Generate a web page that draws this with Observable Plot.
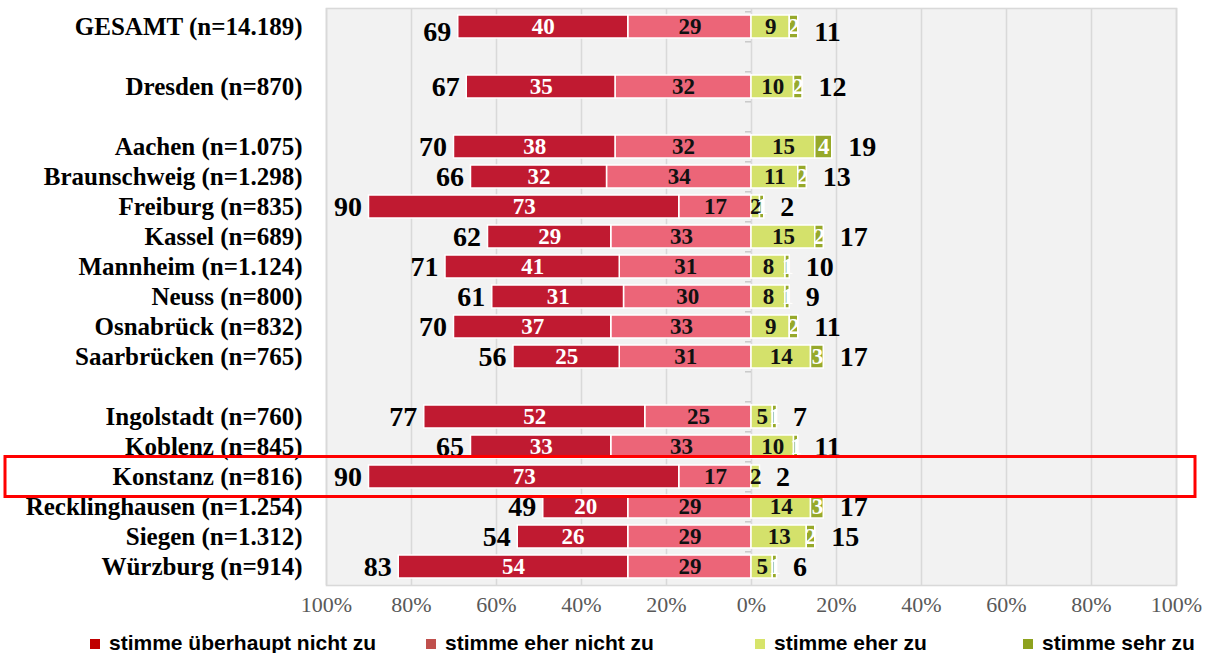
<!DOCTYPE html>
<html>
<head>
<meta charset="utf-8">
<script src="https://cdn.jsdelivr.net/npm/d3@7"></script>
<script src="https://cdn.jsdelivr.net/npm/@observablehq/plot@0.6"></script>
<style>
  body { margin: 0; background: white; }
  #legend { position: relative; width: 1211px; height: 27px; font-family: "Liberation Sans", Arial, sans-serif; font-weight: bold; font-size: 21px; color: #000; }
  .item { position: absolute; top: 0; height: 27px; display: flex; align-items: center; white-space: nowrap; }
  .sw { width: 10px; height: 10px; margin-right: 9px; position: relative; top: 4px; }
  .lt { position: relative; top: 3px; }
</style>
</head>
<body>
<div id="chart"></div>
<div id="legend"></div>
<script>
// ---- data ----
const cities = [
  "GESAMT (n=14.189)", "Dresden (n=870)",
  "Aachen (n=1.075)", "Braunschweig (n=1.298)", "Freiburg (n=835)", "Kassel (n=689)",
  "Mannheim (n=1.124)", "Neuss (n=800)", "Osnabrück (n=832)", "Saarbrücken (n=765)",
  "Ingolstadt (n=760)", "Koblenz (n=845)", "Konstanz (n=816)", "Recklinghausen (n=1.254)",
  "Siegen (n=1.312)", "Würzburg (n=914)"
];
const gapAfter = ["GESAMT (n=14.189)", "Dresden (n=870)", "Saarbrücken (n=765)"];
const highlighted = ["Konstanz (n=816)"];

const ueberhauptNicht = [40, 35, 38, 32, 73, 29, 41, 31, 37, 25, 52, 33, 73, 20, 26, 54];
const eherNicht       = [29, 32, 32, 34, 17, 33, 31, 30, 33, 31, 25, 33, 17, 29, 29, 29];
const eherZu          = [ 9, 10, 15, 11,  2, 15,  8,  8,  9, 14,  5, 10,  2, 14, 13,  5];
const sehrZu          = [ 2,  2,  4,  2,  1,  2,  1,  1,  2,  3,  1,  1,  0,  3,  2,  1];
const totalNicht      = [69, 67, 70, 66, 90, 62, 71, 61, 70, 56, 77, 65, 90, 49, 54, 83];
const totalZu         = [11, 12, 19, 13,  2, 17, 10,  9, 11, 17,  7, 11,  2, 17, 15,  6];

const seriesNames = ["stimme überhaupt nicht zu", "stimme eher nicht zu", "stimme eher zu", "stimme sehr zu"];
const barColors    = ["#c01a31", "#ec6578", "#d4e16b", "#97a92a"];
const legendColors = ["#c00000", "#c0504d", "#d7e46b", "#8ea21e"];
const labelColors  = ["white", "#111", "#111", "white"];
const xTicks = [-100, -80, -60, -40, -20, 0, 20, 40, 60, 80, 100];

// ---- derived ----
const yDomain = [];
cities.forEach(c => { yDomain.push(c); if (gapAfter.includes(c)) yDomain.push("gap-" + c); });

const segs = [];
cities.forEach((c, i) => {
  const en = eherNicht[i], un = ueberhauptNicht[i], ez = eherZu[i], sz = sehrZu[i];
  segs.push({city: c, s: 1, v: en, x1: -en, x2: 0});
  segs.push({city: c, s: 0, v: un, x1: -(en + un), x2: -en});
  segs.push({city: c, s: 2, v: ez, x1: 0, x2: ez});
  segs.push({city: c, s: 3, v: sz, x1: ez, x2: ez + sz});
});
segs.forEach(d => { d.mid = (d.x1 + d.x2) / 2; d.name = seriesNames[d.s]; });
const totals = cities.map((c, i) => ({
  city: c, left: -(eherNicht[i] + ueberhauptNicht[i]), right: eherZu[i] + sehrZu[i],
  tn: totalNicht[i], tz: totalZu[i]
}));

const W = 1211, H = 626, mT = 8, mB = 41;
const step = (H - mT - mB) / yDomain.length;
const serif = "'Liberation Serif', 'Times New Roman', serif";

const labelMarks = [0, 1, 2, 3].map(s => Plot.text(segs.filter(d => d.s === s && d.v > 0), {
  x: "mid", y: "city", text: d => String(d.v), fill: labelColors[s],
  fontSize: 23, fontWeight: "bold"
}));

const totalMarks = [[totals.slice(0, 1), 5], [totals.slice(1), 0]].flatMap(([rows, dy]) => [
  Plot.text(rows, {x: "left", y: "city", text: d => String(d.tn), textAnchor: "end", dx: -7, dy, fontSize: 28, fontWeight: "bold", fill: "black"}),
  Plot.text(rows, {x: "right", y: "city", text: d => String(d.tz), textAnchor: "start", dx: 16, dy, fontSize: 28, fontWeight: "bold", fill: "black"})
]);

const chart = Plot.plot({
  width: W, height: H,
  marginLeft: 326, marginRight: 35, marginTop: mT, marginBottom: mB,
  style: {fontFamily: serif, background: "white", overflow: "visible"},
  x: {domain: [-100, 100], axis: null},
  y: {type: "band", domain: yDomain, paddingInner: 0.24, paddingOuter: 0.12, axis: null},
  color: {domain: seriesNames, range: barColors},
  marks: [
    Plot.frame({fill: "#f2f2f2", stroke: null}),
    Plot.ruleX(xTicks, {stroke: "#d9d9d9", strokeWidth: 1.6}),
    Plot.ruleY(yDomain, {y: d => d, x1: 0, x2: 0, insetLeft: -6, dy: -step / 2, stroke: "#bfbfbf", strokeWidth: 1.2}),
    Plot.barX(segs.filter(d => d.v > 0), {x1: "x1", x2: "x2", y: "city", fill: "name", stroke: "white", strokeWidth: 1.5}),
    ...labelMarks,
    ...totalMarks,
    Plot.text(cities, {y: d => d, text: d => d, frameAnchor: "left", textAnchor: "end", dx: -24, fontSize: 25, fontWeight: "bold", fill: "black"}),
    Plot.text(xTicks, {x: d => d, text: d => Math.abs(d) + "%", frameAnchor: "bottom", dy: 26, fontSize: 22, fill: "#595959"}),
    Plot.frame({stroke: "#d9d9d9", strokeWidth: 1.6}),
    Plot.barX(highlighted, {x1: -100, x2: 100, y: d => d, fill: "none", stroke: "#ff0000", strokeWidth: 3,
      insetLeft: -321, insetRight: -19, insetTop: -8.5, insetBottom: -8.5})
  ]
});
document.getElementById("chart").appendChild(chart);

// ---- legend ----
const legendLeft = [90, 426, 755, 1023];
const legend = document.getElementById("legend");
seriesNames.forEach((n, i) => {
  const it = document.createElement("div");
  it.className = "item";
  it.style.left = legendLeft[i] + "px";
  it.innerHTML = `<span class="sw" style="background:${legendColors[i]}"></span><span class="lt">${n}</span>`;
  legend.appendChild(it);
});
</script>
</body>
</html>
